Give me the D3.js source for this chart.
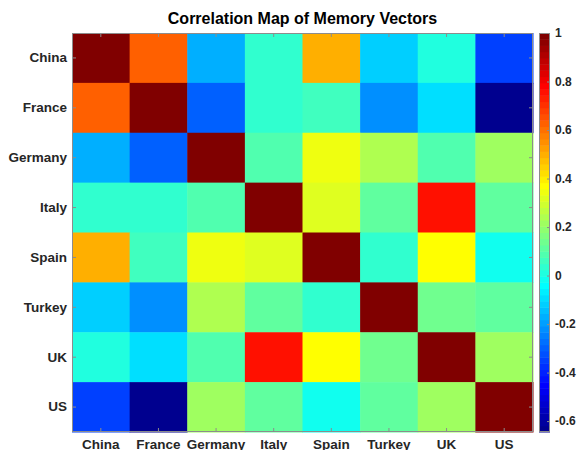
<!DOCTYPE html>
<html>
<head>
<meta charset="utf-8">
<script src="https://cdn.jsdelivr.net/npm/d3@7"></script>
<style>
  html, body { margin: 0; padding: 0; background: #fff; }
  svg { display: block; font-family: 'Liberation Sans', Arial, Helvetica, sans-serif; }
</style>
</head>
<body>
<div id="chart"></div>
<script>
// Correlation heatmap, MATLAB imagesc style with jet(64) colormap

var countries = ['China', 'France', 'Germany', 'Italy', 'Spain', 'Turkey', 'UK', 'US']

var chinaRow = [1, 0.64, -0.17, 0.035, 0.50, -0.12, 0.01, -0.35]
var franceRow = [0.64, 1, -0.30, 0.035, 0.06, -0.22, -0.09, -0.645]
var germanyRow = [-0.17, -0.30, 1, 0.09, 0.345, 0.24, 0.09, 0.215]
var italyRow = [0.035, 0.035, 0.09, 1, 0.32, 0.115, 0.745, 0.115]
var spainRow = [0.50, 0.06, 0.345, 0.32, 1, 0.035, 0.37, -0.015]
var turkeyRow = [-0.12, -0.22, 0.24, 0.115, 0.035, 1, 0.14, 0.115]
var ukRow = [0.01, -0.09, 0.09, 0.745, 0.37, 0.14, 1, 0.215]
var usRow = [-0.35, -0.645, 0.215, 0.115, -0.015, 0.115, 0.215, 1]

var colorbarTicks = [-0.6, -0.4, -0.2, 0, 0.2, 0.4, 0.6, 0.8, 1]

var matrix = [chinaRow, franceRow, germanyRow, italyRow, spainRow, turkeyRow, ukRow, usRow]

var width = 577
var height = 450
var margin = { top: 33, left: 72, right: 44, bottom: 18 }
var plotW = width - margin.left - margin.right
var plotH = height - margin.top - margin.bottom

// MATLAB jet(64)
function jetColor (row) {
  function u (k) {
    if (k < 1 || k > 47) return 0
    if (k <= 16) return k / 16
    if (k <= 31) return 1
    return (48 - k) / 16
  }
  var r = u(row - 24)
  var g = u(row - 8)
  var b = u(row + 8)
  return d3.rgb(Math.round(r * 255), Math.round(g * 255), Math.round(b * 255)).toString()
}
var jet = d3.range(1, 65).map(jetColor)

var cmin = d3.min(matrix, function (r) { return d3.min(r) })
var cmax = d3.max(matrix, function (r) { return d3.max(r) })

function colorOf (v) {
  var idx = Math.floor((v - cmin) / (cmax - cmin) * 64)
  idx = Math.max(0, Math.min(63, idx))
  return jet[idx]
}

var svg = d3.select('#chart').append('svg')
  .attr('width', width)
  .attr('height', height)

var x = d3.scaleBand().domain(countries).range([margin.left, margin.left + plotW])
var y = d3.scaleBand().domain(countries).range([margin.top, margin.top + plotH])

var cells = []
matrix.forEach(function (row, i) {
  row.forEach(function (v, j) {
    cells.push({ r: countries[i], c: countries[j], v: v })
  })
})

svg.append('g').selectAll('rect')
  .data(cells)
  .enter().append('rect')
  .attr('x', function (d) { return x(d.c) })
  .attr('y', function (d) { return y(d.r) })
  .attr('width', x.bandwidth() + 0.5)
  .attr('height', y.bandwidth() + 0.5)
  .attr('fill', function (d) { return colorOf(d.v) })

var axisColor = '#8c8c8c'
var textColor = '#262626'

// axes box
svg.append('rect')
  .attr('x', margin.left + 0.5)
  .attr('y', margin.top + 0.5)
  .attr('width', plotW - 1)
  .attr('height', plotH - 1)
  .attr('fill', 'none')
  .attr('stroke', axisColor)
  .attr('stroke-width', 1)

function styleAxis (g) {
  g.select('.domain').remove()
  g.selectAll('.tick line').attr('stroke', axisColor)
  g.selectAll('.tick text')
    .attr('fill', textColor)
    .style('font-size', '13.5px')
    .style('font-weight', 'bold')
}

svg.append('g')
  .attr('transform', 'translate(' + margin.left + ',0)')
  .call(d3.axisLeft(y).tickSizeInner(-4).tickSizeOuter(0).tickPadding(5))
  .call(styleAxis)

svg.append('g')
  .attr('transform', 'translate(0,' + (margin.top + plotH) + ')')
  .call(d3.axisBottom(x).tickSizeInner(-4).tickSizeOuter(0).tickPadding(7))
  .call(styleAxis)

svg.append('g')
  .attr('transform', 'translate(0,' + margin.top + ')')
  .call(d3.axisTop(x).tickSizeInner(-4).tickSizeOuter(0).tickFormat(''))
  .call(styleAxis)

svg.append('g')
  .attr('transform', 'translate(' + (margin.left + plotW) + ',0)')
  .call(d3.axisRight(y).tickSizeInner(-4).tickSizeOuter(0).tickFormat(''))
  .call(styleAxis)

// title
svg.append('text')
  .attr('x', margin.left + plotW / 2)
  .attr('y', 24)
  .attr('text-anchor', 'middle')
  .attr('fill', '#000')
  .style('font-size', '16px')
  .style('font-weight', 'bold')
  .text('Correlation Map of Memory Vectors')

// colorbar
var cbX = 539
var cbW = 11
var cScale = d3.scaleLinear().domain([cmin, cmax]).range([margin.top + plotH, margin.top])

var cb = svg.append('g')
cb.selectAll('rect')
  .data(jet)
  .enter().append('rect')
  .attr('x', cbX)
  .attr('y', function (d, i) { return cScale(cmin + (i + 1) / 64 * (cmax - cmin)) })
  .attr('width', cbW)
  .attr('height', plotH / 64 + 0.5)
  .attr('fill', function (d) { return d })

cb.append('rect')
  .attr('x', cbX + 0.5)
  .attr('y', margin.top + 0.5)
  .attr('width', cbW - 1)
  .attr('height', plotH - 1)
  .attr('fill', 'none')
  .attr('stroke', axisColor)

svg.append('g')
  .attr('transform', 'translate(' + (cbX + cbW) + ',0)')
  .call(d3.axisRight(cScale).tickValues(colorbarTicks).tickSizeInner(-3).tickSizeOuter(0).tickPadding(5)
    .tickFormat(function (d) { return String(+d.toFixed(1)) }))
  .call(function (g) {
    g.select('.domain').remove()
    g.selectAll('.tick line').attr('stroke', axisColor)
    g.selectAll('.tick text')
      .attr('fill', textColor)
      .style('font-size', '12px')
      .style('font-weight', 'bold')
  })
</script>
</body>
</html>
